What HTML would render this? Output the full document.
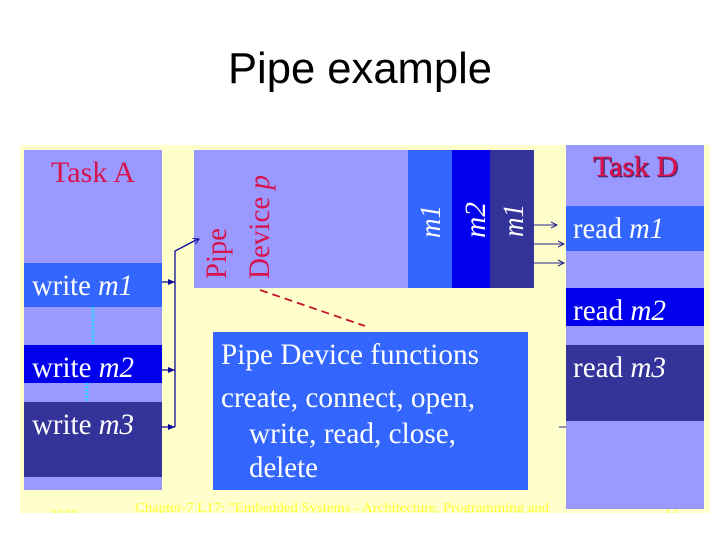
<!DOCTYPE html>
<html>
<head>
<meta charset="utf-8">
<style>
html,body{margin:0;padding:0;background:#fff;width:720px;height:540px;overflow:hidden}
svg{display:block}
.s{font-family:"Liberation Serif",serif}
.w{fill:#fff}
.r{fill:#d8124c}
</style>
</head>
<body>
<svg width="720" height="540" viewBox="0 0 720 540" xmlns="http://www.w3.org/2000/svg">
<text x="228" y="83" font-family="'Liberation Sans',sans-serif" font-size="43.6" textLength="264" lengthAdjust="spacingAndGlyphs" fill="#000">Pipe example</text>

<rect x="20" y="145" width="690" height="368" fill="#ffffcc"/>

<clipPath id="c"><rect x="20" y="145" width="690" height="368"/></clipPath>
<g clip-path="url(#c)" class="s" fill="#ffff33">
<text x="50" y="519" font-size="14">2008</text>
<text x="135" y="512" font-size="14" textLength="414" lengthAdjust="spacingAndGlyphs">Chapter-7 L17: "Embedded Systems - Architecture, Programming and</text>
<text x="664" y="515" font-size="14">12</text>
</g>

<!-- Task A -->
<rect x="24" y="150" width="138" height="340" fill="#9999ff"/>
<rect x="24" y="263" width="138" height="44" fill="#3366ff"/>
<rect x="24" y="345" width="138" height="38" fill="#0000ee"/>
<rect x="24" y="402" width="138" height="75" fill="#333399"/>
<text class="s r" x="51" y="182" font-size="30" textLength="84" lengthAdjust="spacingAndGlyphs">Task A</text>
<g class="s w" font-size="30">
<text x="32" y="295" textLength="101" lengthAdjust="spacingAndGlyphs">write <tspan font-style="italic">m1</tspan></text>
<text x="32" y="377" textLength="102" lengthAdjust="spacingAndGlyphs">write <tspan font-style="italic">m2</tspan></text>
<text x="32" y="434" textLength="102" lengthAdjust="spacingAndGlyphs">write <tspan font-style="italic">m3</tspan></text>
</g>
<line x1="93" y1="307" x2="93" y2="345" stroke="#33ccff" stroke-width="3" stroke-dasharray="2 1.2"/>
<line x1="87" y1="383" x2="87" y2="401" stroke="#33ccff" stroke-width="3" stroke-dasharray="2 1.2"/>

<!-- Pipe device -->
<rect x="194" y="150" width="214" height="138" fill="#9999ff"/>
<rect x="408" y="150" width="44" height="138" fill="#3366ff"/>
<rect x="452" y="150" width="38" height="138" fill="#0000ee"/>
<rect x="490" y="150" width="44" height="138" fill="#333399"/>
<g class="s r" font-size="30">
<text transform="translate(226,279) rotate(-90)" textLength="51" lengthAdjust="spacingAndGlyphs">Pipe</text>
<text transform="translate(269,279) rotate(-90)" textLength="104" lengthAdjust="spacingAndGlyphs">Device <tspan font-style="italic">p</tspan></text>
</g>
<g class="s w" font-size="30" font-style="italic">
<text transform="translate(440,238) rotate(-90)" textLength="33" lengthAdjust="spacingAndGlyphs">m1</text>
<text transform="translate(485,238) rotate(-90)" textLength="36" lengthAdjust="spacingAndGlyphs">m2</text>
<text transform="translate(523,237) rotate(-90)" textLength="33" lengthAdjust="spacingAndGlyphs">m1</text>
</g>

<!-- Functions box -->
<rect x="213" y="332" width="315" height="158" fill="#3366ff"/>
<g class="s w" font-size="30">
<text x="221" y="364" textLength="258" lengthAdjust="spacingAndGlyphs">Pipe Device functions</text>
<text x="221" y="407" textLength="254" lengthAdjust="spacingAndGlyphs">create, connect, open,</text>
<text x="249" y="443" textLength="207" lengthAdjust="spacingAndGlyphs">write, read, close,</text>
<text x="249" y="477" textLength="69" lengthAdjust="spacingAndGlyphs">delete</text>
</g>

<!-- Task D -->
<rect x="566" y="145" width="138" height="364" fill="#9999ff"/>
<rect x="566" y="206" width="138" height="45" fill="#3366ff"/>
<rect x="566" y="288" width="138" height="38" fill="#0000ee"/>
<rect x="566" y="345" width="138" height="76" fill="#333399"/>
<text class="s" x="594" y="177" font-size="29" textLength="85" lengthAdjust="spacingAndGlyphs" fill="#3a2a70" stroke="#3a2a70" stroke-width=".5">Task D</text>
<text class="s r" x="593" y="176" font-size="29" textLength="85" lengthAdjust="spacingAndGlyphs" stroke="#d8124c" stroke-width=".4">Task D</text>
<g class="s w" font-size="30">
<text x="573" y="238" textLength="91" lengthAdjust="spacingAndGlyphs">read <tspan font-style="italic">m1</tspan></text>
<text x="573" y="320" textLength="93" lengthAdjust="spacingAndGlyphs">read <tspan font-style="italic">m2</tspan></text>
<text x="573" y="377" textLength="93" lengthAdjust="spacingAndGlyphs">read <tspan font-style="italic">m3</tspan></text>
</g>

<!-- Connectors -->
<g fill="none" stroke="#0a0a9c">
<path d="M175 427V251L198 239" stroke-width="1.3"/>
<path d="M192.500 238.500L199 239L195.500 244" stroke-width="1"/>
<path d="M162 282H175M162 370H175M162 427H175" stroke-width="1.3"/>
</g>
<g fill="#0a0a9c">
<path d="M168 279L175 282L168 285Z"/>
<path d="M168 367L175 370L168 373Z"/>
<path d="M168 424L175 427L168 430Z"/>
</g>
<g fill="none" stroke="#25258f" stroke-width="1">
<path d="M534 225H557M551 222L557 225L551 228"/>
<path d="M534 244H564M558 241L564 244L558 247"/>
<path d="M534 263H564M558 260L564 263L558 266"/>
<path d="M559 427H566"/>
</g>
<line x1="260" y1="290" x2="365" y2="326" stroke="#c4122e" stroke-width="1.8" stroke-dasharray="8 5"/>
</svg>
</body>
</html>
